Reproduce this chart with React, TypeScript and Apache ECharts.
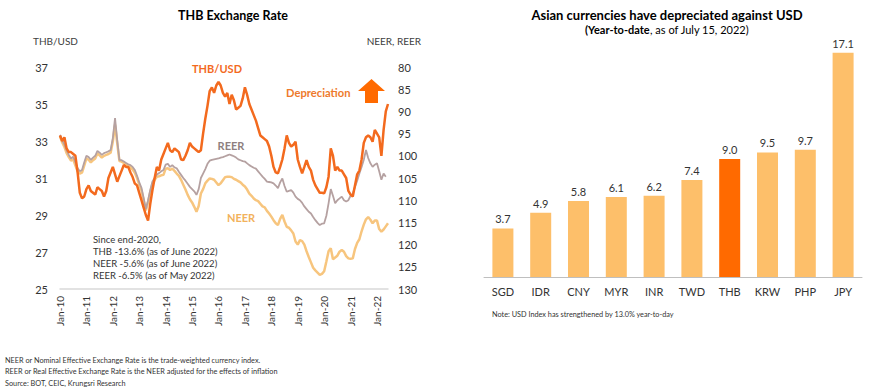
import React, { useEffect, useRef } from "react";
import * as echarts from "echarts";

// ---------- Left chart data ----------
const MONTH_NAMES = ["Jan", "Feb", "Mar", "Apr", "May", "Jun", "Jul", "Aug", "Sep", "Oct", "Nov", "Dec"];
const YEARS = ["10", "11", "12", "13", "14", "15", "16", "17", "18", "19", "20", "21", "22"];
const LAST_YEAR_MONTHS = 6; // data through Jun-22

// THB per USD (left axis), monthly Jan-10 .. Jun-22
const thbUsd = [
  33.3, 33.0, 33.2, 32.6, 32.4, 32.4, 32.3, 32.2, 31.3, 30.2, 29.9, 30.0,
  30.4, 30.6, 30.3, 30.2, 30.1, 30.5, 30.4, 30.3, 30.0, 30.3, 31.0, 31.3,
  31.6, 31.2, 30.8, 31.1, 31.4, 31.7, 31.6, 31.6, 31.3, 31.05, 30.7, 30.6,
  30.2, 29.8, 29.4, 29.0, 28.7, 29.6, 30.35, 31.0, 31.6, 31.4, 32.0, 32.3,
  32.6, 32.9, 32.5, 32.4, 32.6, 32.5, 32.4, 32.0, 31.97, 32.2, 32.5, 32.9,
  32.7, 32.6, 32.5, 32.4, 32.5, 33.4, 34.2, 34.9, 35.7, 35.9, 35.6, 36.0,
  36.2, 36.0, 35.6, 35.4, 35.6, 35.0, 35.5, 35.2, 34.7, 34.8, 34.9, 35.3,
  35.9, 35.5, 35.0, 34.7, 34.4, 34.1, 33.7, 33.3, 33.2, 33.1, 33.0, 32.7,
  32.2, 31.6, 31.3, 31.25, 31.6, 32.0, 32.6, 33.3, 32.9, 32.7, 32.8, 32.96,
  32.0, 31.6, 31.25, 31.6, 31.97, 31.6, 31.4, 30.9, 30.6, 30.4, 30.2, 30.2,
  30.17, 30.5, 31.07, 32.6, 32.2, 31.4, 31.6, 31.4, 31.4, 31.2, 31.0, 30.3,
  30.1, 30.0, 30.6, 31.2, 31.4, 32.0, 32.9, 33.2, 33.3, 33.2, 32.96, 33.6,
  33.4, 33.2, 32.2, 33.6, 34.6, 35.0,
];

// NEER (right axis, inverted), monthly Jan-10 .. Jun-22
const neer = [
  95.6, 97.0, 98.0, 99.4, 100.3, 101.1, 100.8, 102.2, 103.5, 104.0, 103.8, 102.2,
  100.6, 100.9, 101.5, 101.0, 100.6, 99.5, 99.9, 100.4, 100.0, 99.8, 99.6, 99.3,
  96.8, 93.0, 97.2, 101.2, 101.3, 101.6, 101.9, 102.3, 102.6, 103.1, 103.8, 105.0,
  106.5, 107.8, 110.0, 112.3, 110.5, 108.2, 106.3, 105.4, 104.7, 104.6, 104.4, 104.3,
  102.9, 102.8, 103.2, 102.9, 103.4, 104.0, 104.5, 105.4, 106.5, 107.6, 108.8, 109.8,
  110.5, 111.5, 112.6, 111.3, 108.5, 107.5, 106.2, 105.6, 105.1, 105.2, 105.4, 106.0,
  106.6, 106.2, 105.5, 104.8, 104.7, 104.7, 104.8, 105.2, 105.4, 105.7, 106.0, 106.5,
  106.9, 107.6, 108.5, 109.0, 109.6, 110.0, 110.2, 110.8, 111.4, 111.6, 112.4, 113.0,
  113.7, 114.5, 115.2, 115.6, 114.2, 113.3, 114.8, 116.0, 116.2, 116.8, 117.5, 119.3,
  120.0, 119.0, 119.2, 120.0, 121.5, 122.8, 124.0, 125.2, 125.8, 126.3, 126.8, 126.6,
  126.0, 123.8, 121.5, 120.8, 123.3, 122.9, 122.5, 121.6, 121.2, 121.6, 122.6, 123.1,
  123.2, 123.1, 121.0, 119.6, 118.8, 117.0, 115.5, 114.3, 113.8, 114.4, 115.2, 114.6,
  114.6, 116.5, 117.1, 116.6, 115.9, 115.2,
];

// REER (right axis, inverted), monthly Jan-10 .. May-22
const reer = [
  95.3, 96.5, 97.5, 98.8, 99.8, 100.6, 100.2, 101.5, 102.8, 103.5, 103.2, 101.5,
  100.0, 100.3, 100.9, 100.4, 100.0, 98.9, 99.3, 99.8, 99.4, 99.2, 99.0, 98.7,
  96.0, 91.5, 96.5, 100.9, 101.0, 101.3, 101.6, 101.9, 102.1, 102.5, 103.2, 104.5,
  106.0, 107.2, 109.5, 112.0, 110.0, 107.7, 105.8, 105.0, 104.2, 103.9, 103.5, 103.2,
  102.0, 101.8, 102.5, 102.1, 102.6, 102.8, 103.6, 104.3, 105.0, 105.6, 106.3, 107.0,
  107.5, 108.0, 108.8, 107.5, 105.0, 104.0, 103.0, 101.8, 101.1, 100.9, 100.8, 100.7,
  100.6, 100.4, 100.3, 100.1, 99.9, 99.7, 99.9, 100.1, 100.4, 100.8, 101.0, 101.2,
  101.3, 101.7, 102.1, 102.4, 102.7, 102.9, 103.5, 104.1, 104.7, 105.2, 105.8, 105.9,
  106.0, 106.2, 106.7, 107.3, 106.0, 105.1, 106.8, 108.1, 107.9, 107.7, 108.3, 109.2,
  109.7, 110.0, 110.6, 111.4, 112.0, 112.6, 113.0, 113.8, 114.5, 115.1, 115.6, 115.3,
  115.2, 113.5, 110.7, 107.5, 109.0, 110.7, 110.0, 109.6, 109.2, 110.0, 110.3, 110.0,
  109.0, 108.5, 107.0, 105.6, 104.0, 102.5, 100.9, 98.7, 100.5, 101.7, 102.5, 102.0,
  101.7, 103.5, 105.4, 104.0, 104.7,
];

const leftAxis = { min: 25, max: 37, interval: 2 };
const rightAxis = { min: 80, max: 130, interval: 5 };

// ---------- Right chart data ----------
const currencies = ["SGD", "IDR", "CNY", "MYR", "INR", "TWD", "THB", "KRW", "PHP", "JPY"];
const ytdDepreciation = [3.7, 4.9, 5.8, 6.1, 6.2, 7.4, 9.0, 9.5, 9.7, 17.1];
const highlighted = "THB";

const annotationLines = [
  "Since end-2020,",
  "THB -13.6% (as of June 2022)",
  "NEER -5.6% (as of June 2022)",
  "REER -6.5% (as of May 2022)",
];
const footnotes = [
  "NEER or Nominal Effective Exchange Rate is the trade-weighted currency index.",
  "REER or Real Effective Exchange Rate is the NEER adjusted for the effects of inflation",
  "Source: BOT, CEIC, Krungsri Research",
];

const FONT = "Lato, 'Open Sans', sans-serif";
const C_THB = "#F36A1E";
const C_NEER = "#F7C57E";
const C_REER = "#B5A1A1";
const C_BAR = "#FDBF6A";
const C_BAR_HI = "#FF6A00";
const C_TEXT = "#333333";

function buildCategories(): string[] {
  const out: string[] = [];
  YEARS.forEach((y, yi) => {
    const n = yi === YEARS.length - 1 ? LAST_YEAR_MONTHS : 12;
    for (let i = 0; i < n; i++) out.push(`${MONTH_NAMES[i]}-${y}`);
  });
  return out;
}

export default function App() {
  const ref = useRef<HTMLDivElement>(null);
  useEffect(() => {
    document.body.style.margin = "0";
    if (!ref.current) return;
    const chart = echarts.init(ref.current, undefined, { renderer: "svg" });
    const cats = buildCategories();

    const text = (t: string, x: number, y: number, o: any = {}) => ({
      type: "text",
      x,
      y,
      silent: true,
      style: {
        text: t,
        fontFamily: FONT,
        fontSize: o.size ?? 11,
        fontWeight: o.weight ?? "normal",
        fill: o.color ?? C_TEXT,
        align: o.align ?? "left",
        verticalAlign: "middle",
      },
    });

    const graphic: any[] = [
      text("THB Exchange Rate", 233, 15, { size: 12.5, weight: "bold", align: "center", color: "#000" }),
      text("THB/USD", 33, 41, { size: 10, color: "#404040" }),
      text("NEER, REER", 421, 41, { size: 10, color: "#404040", align: "right" }),
      text("THB/USD", 217, 68, { size: 11, weight: "bold", align: "center", color: C_THB }),
      text("REER", 231, 145, { size: 11, weight: "bold", align: "center", color: "#8E7F7F" }),
      text("NEER", 241, 217, { size: 11, weight: "bold", align: "center", color: "#F2B25C" }),
      text("Depreciation", 286, 92, { size: 11.2, weight: "bold", color: "#EE7A2C" }),
      {
        type: "polygon",
        silent: true,
        shape: {
          points: [
            [371.5, 79], [385, 91], [378, 91], [378, 103], [365, 103], [365, 91], [358, 91],
          ],
        },
        style: { fill: C_BAR_HI },
      },
      ...annotationLines.map((l, i) => text(l, 93, 239 + i * 12, { size: 9.5 })),
      ...footnotes.map((l, i) => text(l, 5, 360 + i * 11.5, { size: 7.3 })),
      text("Asian currencies have depreciated against USD", 667, 15, {
        size: 13, weight: "bold", align: "center", color: "#000",
      }),
      {
        type: "text",
        x: 667,
        y: 29,
        silent: true,
        style: {
          text: "{b|(Year-to-date}{n|, as of July 15, 2022)}",
          align: "center",
          verticalAlign: "middle",
          fontFamily: FONT,
          rich: {
            b: { fontFamily: FONT, fontSize: 11, fontWeight: "bold", fill: "#000" },
            n: { fontFamily: FONT, fontSize: 11, fill: "#000" },
          },
        },
      },
      text("Note: USD Index has strengthened by 13.0% year-to-day", 492, 314, { size: 7.3 }),
    ];

    chart.setOption({
      animation: false,
      grid: [
        { left: 60, top: 67, width: 328, height: 222 },
        { left: 484, top: 41, width: 378, height: 236 },
      ],
      xAxis: [
        {
          type: "category",
          gridIndex: 0,
          data: cats,
          boundaryGap: false,
          axisLine: { lineStyle: { color: "#D9D9D9", width: 1.5 } },
          axisTick: { show: false },
          axisLabel: {
            interval: 11,
            rotate: 90,
            fontFamily: FONT,
            fontSize: 10,
            color: C_TEXT,
            margin: 7,
          },
          splitLine: { show: false },
        },
        {
          type: "category",
          gridIndex: 1,
          data: currencies,
          axisLine: { lineStyle: { color: "#BFBFBF", width: 1 } },
          axisTick: { show: false },
          axisLabel: { fontFamily: FONT, fontSize: 11, color: C_TEXT, margin: 9 },
        },
      ],
      yAxis: [
        {
          type: "value",
          gridIndex: 0,
          position: "left",
          min: leftAxis.min,
          max: leftAxis.max,
          interval: leftAxis.interval,
          axisLine: { show: false },
          axisTick: { show: false },
          splitLine: { show: false },
          axisLabel: { fontFamily: FONT, fontSize: 11, color: C_TEXT, margin: 12 },
        },
        {
          type: "value",
          gridIndex: 0,
          position: "right",
          inverse: true,
          min: rightAxis.min,
          max: rightAxis.max,
          interval: rightAxis.interval,
          axisLine: { show: false },
          axisTick: { show: false },
          splitLine: { show: false },
          axisLabel: { fontFamily: FONT, fontSize: 11, color: C_TEXT, margin: 10 },
        },
        {
          type: "value",
          gridIndex: 1,
          min: 0,
          max: 18,
          show: false,
          splitLine: { show: false },
        },
      ],
      series: [
        {
          type: "line",
          name: "NEER",
          xAxisIndex: 0,
          yAxisIndex: 1,
          data: neer,
          showSymbol: false,
          lineStyle: { color: C_NEER, width: 2.5 },
          z: 2,
        },
        {
          type: "line",
          name: "REER",
          xAxisIndex: 0,
          yAxisIndex: 1,
          data: reer,
          showSymbol: false,
          lineStyle: { color: C_REER, width: 1.8 },
          z: 3,
        },
        {
          type: "line",
          name: "THB/USD",
          xAxisIndex: 0,
          yAxisIndex: 0,
          data: thbUsd,
          showSymbol: false,
          lineStyle: { color: C_THB, width: 2.5 },
          z: 4,
        },
        {
          type: "bar",
          xAxisIndex: 1,
          yAxisIndex: 2,
          barWidth: 21,
          data: ytdDepreciation.map((v, i) => ({
            value: v,
            itemStyle: { color: currencies[i] === highlighted ? C_BAR_HI : C_BAR },
          })),
          label: {
            show: true,
            position: "top",
            distance: 4,
            fontFamily: FONT,
            fontSize: 11,
            color: C_TEXT,
            formatter: (p: any) => Number(p.value).toFixed(1),
          },
        },
      ],
      graphic,
    });
    return () => chart.dispose();
  }, []);
  return <div ref={ref} style={{ width: 870, height: 392 }} />;
}
